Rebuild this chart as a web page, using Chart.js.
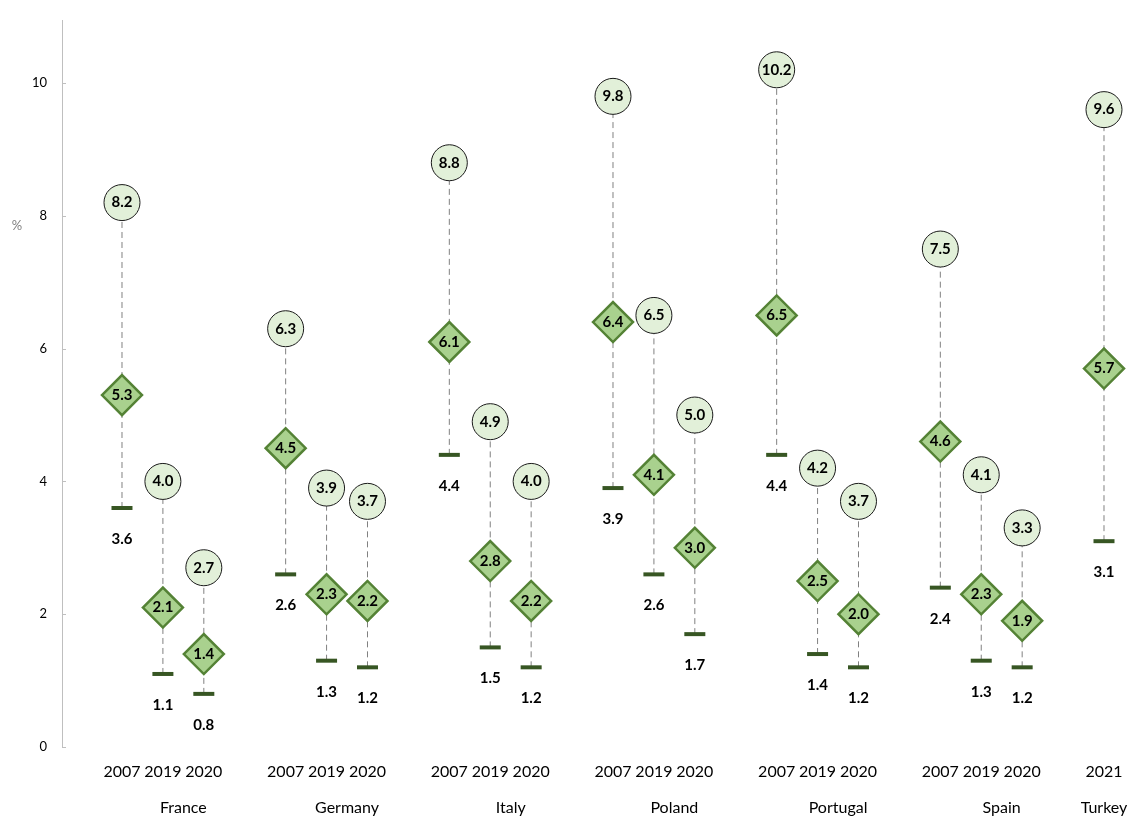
<!DOCTYPE html>
<html>
<head>
<meta charset="utf-8">
<script src="https://cdn.jsdelivr.net/npm/chart.js@4.4.1/dist/chart.umd.min.js"></script>
<style>
  html, body { margin: 0; padding: 0; background: #fff; }
  #wrap { width: 1131px; height: 817px; }
</style>
</head>
<body>
<div id="wrap"><canvas id="rangeChart"></canvas></div>
<script>
// data
const countries = ['France', 'Germany', 'Italy', 'Poland', 'Portugal', 'Spain', 'Turkey'];
const pointCountry = [0, 0, 0, 1, 1, 1, 2, 2, 2, 3, 3, 3, 4, 4, 4, 5, 5, 5, 6];
const pointYear = ['2007', '2019', '2020', '2007', '2019', '2020', '2007', '2019', '2020',
  '2007', '2019', '2020', '2007', '2019', '2020', '2007', '2019', '2020', '2021'];
const highValues = [8.2, 4.0, 2.7, 6.3, 3.9, 3.7, 8.8, 4.9, 4.0, 9.8, 6.5, 5.0, 10.2, 4.2, 3.7, 7.5, 4.1, 3.3, 9.6];
const midValues = [5.3, 2.1, 1.4, 4.5, 2.3, 2.2, 6.1, 2.8, 2.2, 6.4, 4.1, 3.0, 6.5, 2.5, 2.0, 4.6, 2.3, 1.9, 5.7];
const lowValues = [3.6, 1.1, 0.8, 2.6, 1.3, 1.2, 4.4, 1.5, 1.2, 3.9, 2.6, 1.7, 4.4, 1.4, 1.2, 2.4, 1.3, 1.2, 3.1];
const yTicks = [0, 2, 4, 6, 8, 10];

// category slots: each country takes 3 slots + one empty slot
const slotOf = [];
pointCountry.forEach((c, i) => {
  const j = (i > 0 && pointCountry[i - 1] === c) ? slotOf[i - 1] - c * 4 + 1 : 0;
  slotOf.push(c * 4 + j);
});
const countryCenter = countries.map((name, c) => {
  const s = slotOf.filter((v, i) => pointCountry[i] === c);
  const gap = c < countries.length - 1 ? 1 : 0;
  return (s[0] + s[s.length - 1] + gap) / 2;
});

Chart.defaults.font.family = 'Lato, "Open Sans", sans-serif';
Chart.defaults.color = '#000';

// no extra label padding, so the chart area keeps the set size
const noPad = scale => {
  scale.paddingLeft = 0;
  scale.paddingRight = 0;
  scale.paddingTop = 0;
  scale.paddingBottom = 0;
};

const valueLabels = {
  id: 'valueLabels',
  afterDatasetsDraw(chart) {
    const ctx = chart.ctx;
    ctx.save();
    ctx.font = 'bold 15px Lato';
    ctx.fillStyle = '#000';
    ctx.textAlign = 'center';
    ctx.textBaseline = 'middle';
    [[0, highValues, 0], [1, midValues, 0], [2, lowValues, 31]].forEach(([di, vals, dy]) => {
      chart.getDatasetMeta(di).data.forEach((pt, i) => {
        ctx.fillText(vals[i].toFixed(1), pt.x, pt.y + dy);
      });
    });
    ctx.restore();
  },
  afterDraw(chart) {
    const ctx = chart.ctx;
    const y = chart.scales.y;
    ctx.save();
    // small tick marks inside the axis
    ctx.strokeStyle = '#bfbfbf';
    ctx.lineWidth = 1;
    yTicks.forEach(v => {
      const py = Math.round(y.getPixelForValue(v)) + 0.5;
      ctx.beginPath();
      ctx.moveTo(chart.chartArea.left, py);
      ctx.lineTo(chart.chartArea.left + 4, py);
      ctx.stroke();
    });
    // unit label
    ctx.font = '13px Lato';
    ctx.fillStyle = '#7f7f7f';
    ctx.textAlign = 'center';
    ctx.textBaseline = 'middle';
    ctx.fillText('%', 17, y.getPixelForValue(7.85));
    ctx.restore();
  }
};

const ctx = document.getElementById('rangeChart').getContext('2d');
new Chart(ctx, {
  type: 'scatter',
  data: {
    datasets: [
      {
        label: 'high',
        data: slotOf.map((s, i) => ({ x: s, y: highValues[i] })),
        pointStyle: 'circle',
        pointRadius: 18,
        backgroundColor: '#e2f0d9',
        borderColor: '#1a1a1a',
        borderWidth: 1,
        clip: false,
        order: 1
      },
      {
        label: 'mid',
        data: slotOf.map((s, i) => ({ x: s, y: midValues[i] })),
        pointStyle: 'rectRot',
        pointRadius: 20,
        backgroundColor: '#a9d18e',
        borderColor: '#548235',
        borderWidth: 2.5,
        clip: false,
        order: 2
      },
      {
        label: 'low',
        data: slotOf.map((s, i) => ({ x: s, y: lowValues[i] })),
        pointStyle: 'line',
        pointRadius: 10.5,
        borderColor: '#375623',
        borderWidth: 4,
        clip: false,
        order: 3
      },
      {
        label: 'range',
        type: 'line',
        data: slotOf.flatMap((s, i) => [{ x: s, y: lowValues[i] }, { x: s, y: highValues[i] }, { x: s, y: null }]),
        borderColor: '#808080',
        borderWidth: 1,
        borderDash: [6, 4],
        pointRadius: 0,
        spanGaps: false,
        showLine: true,
        order: 4
      }
    ]
  },
  options: {
    responsive: true,
    maintainAspectRatio: false,
    animation: false,
    events: [],
    layout: {
      autoPadding: false,
      padding: { top: 20, right: 0, bottom: 0, left: 0 }
    },
    plugins: {
      legend: { display: false },
      tooltip: { enabled: false }
    },
    scales: {
      x: {
        type: 'linear',
        position: 'bottom',
        weight: 0,
        min: -1.466,
        max: 24.66,
        grid: { display: false, drawTicks: false },
        border: { display: false },
        afterBuildTicks: scale => { scale.ticks = slotOf.map(v => ({ value: v })); },
        afterFit: scale => { scale.height = 35; noPad(scale); },
        ticks: {
          autoSkip: false,
          maxRotation: 0,
          padding: 15,
          font: { size: 16 },
          color: '#000',
          callback: v => pointYear[slotOf.indexOf(v)]
        }
      },
      x2: {
        type: 'linear',
        position: 'bottom',
        weight: 1,
        min: -1.466,
        max: 24.66,
        grid: { display: false, drawTicks: false },
        border: { display: false },
        afterBuildTicks: scale => { scale.ticks = countryCenter.map(v => ({ value: v })); },
        afterFit: scale => { scale.height = 35; noPad(scale); },
        ticks: {
          autoSkip: false,
          maxRotation: 0,
          padding: 16,
          font: { size: 16 },
          color: '#000',
          callback: v => countries[countryCenter.indexOf(v)]
        }
      },
      y: {
        min: 0,
        max: 10.95,
        afterBuildTicks: scale => { scale.ticks = yTicks.map(v => ({ value: v })); },
        afterFit: scale => { scale.width = 62; noPad(scale); },
        grid: { display: false, drawTicks: false },
        border: { display: true, color: '#bfbfbf', width: 1 },
        ticks: {
          padding: 15,
          font: { size: 13 },
          color: '#000'
        }
      }
    }
  },
  plugins: [valueLabels]
});
</script>
</body>
</html>
